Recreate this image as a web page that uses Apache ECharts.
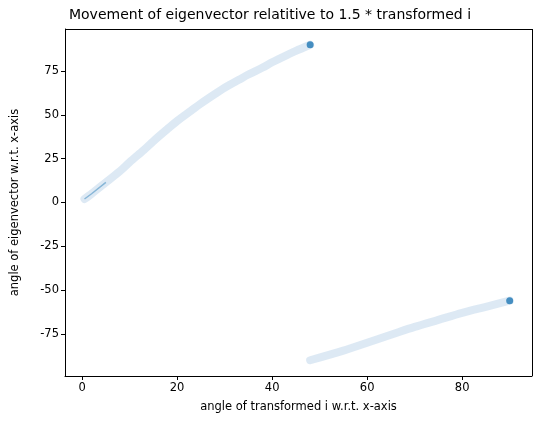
<!DOCTYPE html><html><head><meta charset="utf-8"><script src="https://cdn.jsdelivr.net/npm/echarts@6/dist/echarts.min.js"></script>
<style>html,body{margin:0;padding:0;background:#fff}#c{width:540px;height:426px}</style></head><body><div id="c"></div><script>
const upperX=[0.5,2,5,8,10,13,15,18,20,23,25,28,30,33,35,38,40,43,45,48];
const upperY=[2,5,11.5,18,23,30,35,42,46.5,52.5,56.5,62,65.5,70,73,77,80,84,86.5,90];
const lowerX=[48,55,60,65,70,75,80,85,90];
const lowerY=[-90,-84.5,-80,-75.5,-71,-67,-63,-59.5,-56];
const endX=[48,90], endY=[90,-56];
const xTicks=[0,20,40,60,80];
const yTicks=[-75,-50,-25,0,25,50,75];
const z=(a,b)=>a.map((v,i)=>[v,b[i]]);
const ax={fontSize:11.5,color:'#000',fontFamily:'DejaVu Sans'};
const band={type:'line',smooth:0.3,symbol:'none',lineStyle:{width:8,color:'rgba(170,200,228,0.4)',cap:'round',join:'round'},z:2};
echarts.init(document.getElementById('c')).setOption({
 animation:false,
 title:{text:'Movement of eigenvector relatitive to 1.5 * transformed i',left:'center',top:3,textStyle:{fontSize:14,fontWeight:'normal',color:'#000',fontFamily:'DejaVu Sans'}},
 grid:{left:65,right:8,top:29,bottom:50},
 xAxis:{type:'value',min:-3.6,max:94.7,name:'angle of transformed i w.r.t. x-axis',nameLocation:'middle',nameGap:25,nameTextStyle:ax,
  axisLabel:Object.assign({customValues:xTicks,margin:6},ax),axisTick:{customValues:xTicks,length:4,lineStyle:{color:'#000'}},
  axisLine:{onZero:false,lineStyle:{color:'#000'}},splitLine:{show:false}},
 yAxis:{type:'value',min:-99,max:99,name:'angle of eigenvector w.r.t. x-axis',nameLocation:'middle',nameGap:44,nameTextStyle:ax,
  axisLabel:Object.assign({customValues:yTicks,margin:6},ax),axisTick:{show:true,customValues:yTicks,length:4,lineStyle:{color:'#000'}},
  axisLine:{show:true,onZero:false,lineStyle:{color:'#000'}},splitLine:{show:false}},
 series:[
  Object.assign({data:z(upperX,upperY)},band),
  Object.assign({data:z(lowerX,lowerY)},band),
  {type:'line',data:z(upperX.slice(0,3),upperY.slice(0,3)),symbol:'none',lineStyle:{width:1.5,color:'rgba(31,119,180,0.45)'},z:3},
  {type:'scatter',data:z(endX,endY),symbolSize:7,itemStyle:{color:'#1f77b4'},z:4},
  {type:'line',data:[],markLine:{silent:true,symbol:'none',label:{show:false},lineStyle:{color:'#000',type:'solid',width:1},data:[[{coord:[94.7,-99]},{coord:[94.7,99]}],[{coord:[-3.6,99]},{coord:[94.7,99]}]]}}
 ]});
</script></body></html>
